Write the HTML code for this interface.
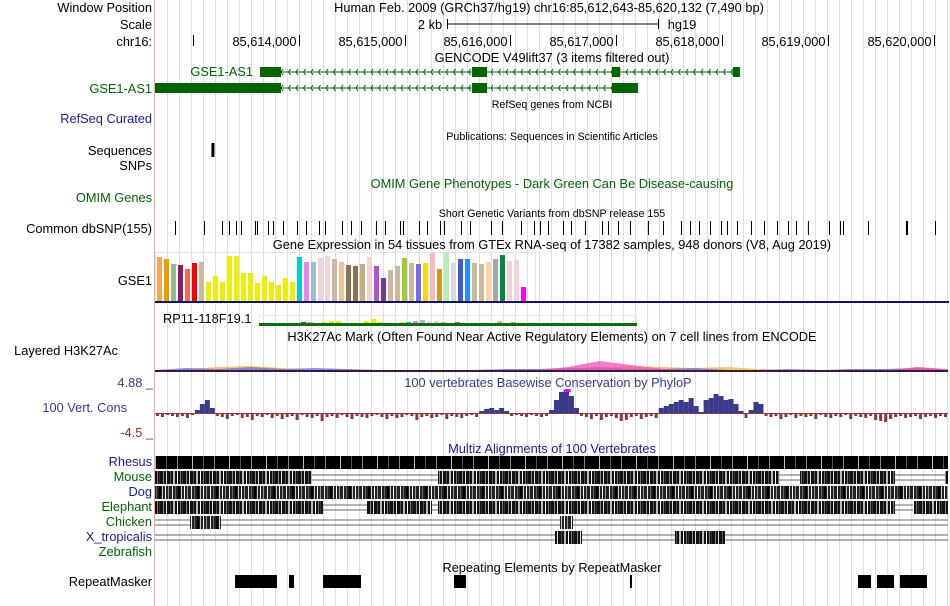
<!DOCTYPE html>
<html><head><meta charset="utf-8">
<style>
html,body{margin:0;padding:0;background:#fff;}
svg{display:block;font-family:"Liberation Sans",Arial,sans-serif;}
</style></head>
<body>
<svg id="c" width="950" height="606" viewBox="0 0 950 606" xmlns="http://www.w3.org/2000/svg">
<defs>
<pattern id="pat-a" width="23" height="20" patternUnits="userSpaceOnUse">
<rect width="23" height="20" fill="#111"/>
<rect x="2" width="1" height="20" fill="#888"/><rect x="5" width="1" height="20" fill="#ddd"/>
<rect x="9" width="1" height="20" fill="#555"/><rect x="12" width="2" height="20" fill="#bbb"/>
<rect x="16" width="1" height="20" fill="#fff"/><rect x="19" width="1" height="20" fill="#777"/>
<rect x="21" width="1" height="20" fill="#333"/>
</pattern>
<pattern id="pat-b" width="37" height="20" patternUnits="userSpaceOnUse">
<rect width="37" height="20" fill="#000"/>
<rect x="7" width="1" height="20" fill="#bbb"/><rect x="18" width="1" height="20" fill="#555"/>
<rect x="29" width="1" height="20" fill="#888"/>
</pattern>
<pattern id="pat-c" width="19" height="20" patternUnits="userSpaceOnUse">
<rect width="19" height="20" fill="#222"/>
<rect x="1" width="1" height="20" fill="#eee"/><rect x="4" width="1" height="20" fill="#666"/>
<rect x="7" width="2" height="20" fill="#000"/><rect x="10" width="1" height="20" fill="#ccc"/>
<rect x="13" width="1" height="20" fill="#fff"/><rect x="16" width="1" height="20" fill="#999"/>
</pattern>
</defs>
<g id="grid"></g>
<line x1="154.5" y1="0" x2="154.5" y2="606" stroke="#f4a8a8" stroke-width="1"/>
<g id="labels" font-size="12.8" text-anchor="end">
<text x="152" y="12" fill="#000">Window Position</text>
<text x="152" y="29" fill="#000">Scale</text>
<text x="152" y="46" fill="#000">chr16:</text>
<text x="152" y="93" fill="#006400">GSE1-AS1</text>
<text x="152" y="123" fill="#1a1a8c">RefSeq Curated</text>
<text x="152" y="155" fill="#000">Sequences</text>
<text x="152" y="170" fill="#000">SNPs</text>
<text x="152" y="202" fill="#006400">OMIM Genes</text>
<text x="152" y="233" fill="#000">Common dbSNP(155)</text>
<text x="152" y="285" fill="#000">GSE1</text>
<text x="118" y="355" fill="#000">Layered H3K27Ac</text>
<text x="153" y="387" fill="#3a3a8c">4.88 _</text>
<text x="127" y="412" fill="#3a3a8c">100 Vert. Cons</text>
<text x="153" y="437" fill="#8b2c2c">-4.5 _</text>
<text x="152" y="466" fill="#1a1a8c">Rhesus</text>
<text x="152" y="481" fill="#006400">Mouse</text>
<text x="152" y="496" fill="#1a1a8c">Dog</text>
<text x="152" y="511" fill="#006400">Elephant</text>
<text x="152" y="526" fill="#006400">Chicken</text>
<text x="152" y="541" fill="#1a1a8c">X_tropicalis</text>
<text x="152" y="556" fill="#006400">Zebrafish</text>
<text x="152" y="586" fill="#000">RepeatMasker</text>
</g>
<g id="titles" font-size="12.8" text-anchor="middle">
<text x="549" y="12">Human Feb. 2009 (GRCh37/hg19)   chr16:85,612,643-85,620,132 (7,490 bp)</text>
<text x="430" y="29">2 kb</text>
<text x="682" y="29">hg19</text>
<text x="552" y="62">GENCODE V49lift37 (3 items filtered out)</text>
<text x="552" y="108" font-size="10.7">RefSeq genes from NCBI</text>
<text x="552" y="140" font-size="10.7">Publications: Sequences in Scientific Articles</text>
<text x="552" y="188" fill="#006400">OMIM Gene Phenotypes - Dark Green Can Be Disease-causing</text>
<text x="552" y="217" font-size="10.7">Short Genetic Variants from dbSNP release 155</text>
<text x="552" y="249">Gene Expression in 54 tissues from GTEx RNA-seq of 17382 samples, 948 donors (V8, Aug 2019)</text>
<text x="552" y="341">H3K27Ac Mark (Often Found Near Active Regulatory Elements) on 7 cell lines from ENCODE</text>
<text x="548" y="387" fill="#3a3a8c">100 vertebrates Basewise Conservation by PhyloP</text>
<text x="552" y="453" fill="#1a1a8c">Multiz Alignments of 100 Vertebrates</text>
<text x="552" y="572">Repeating Elements by RepeatMasker</text>
</g>
<line x1="447" y1="24" x2="659" y2="24" stroke="#000"/>
<line x1="447.5" y1="19" x2="447.5" y2="29" stroke="#000"/>
<line x1="658.5" y1="19" x2="658.5" y2="29" stroke="#000"/>
<text x="253" y="76" font-size="12.8" text-anchor="end" fill="#006400">GSE1-AS1</text>
<text x="163" y="323" font-size="12.8" fill="#000">RP11-118F19.1</text>
<g id="axis"></g>
<g id="genes"></g>
<g id="snps"></g>
<g id="gtex"></g>
<g id="h3k"></g>
<g id="phylop"></g>
<g id="multiz"></g>
<g id="rmsk"></g>
</svg>
<script>
const NS='http://www.w3.org/2000/svg';
const winStart=85612643, winEnd=85620132;
const tickPositions=[85614000,85615000,85616000,85617000,85618000,85619000,85620000];
const tickLabels=['85,614,000','85,615,000','85,616,000','85,617,000','85,618,000','85,619,000','85,620,000'];
const exonsTx1=[[992,1190],[2994,3136],[4316,4392],[5459,5525]];
const exonsTx2=[[0,1190],[2994,3136],[4316,4562]];
const seqHits=[533];
const snpPos=[189,463,633,699,765,812,944,963,1067,1115,1209,1341,1426,1549,1606,1766,1851,1946,2087,2172,2314,2342,2493,2569,2692,2730,2890,2975,3174,3277,3457,3580,3636,3712,3854,3929,4061,4222,4279,4373,4486,4656,4798,4968,5053,5138,5242,5346,5402,5497,5629,5752,5875,5979,6054,6167,6366,6470,6498,6734,7093,7367];
const gtexValues=[44,42,37,36,32,38,39,19,25,19,45,45,28,28,18,25,19,16,23,19,44,39,39,43,45,42,39,36,35,37,44,35,23,31,35,43,38,37,38,48,32,49,38,42,42,38,37,39,42,46,40,41,14];
const gtexColors=['#FFA54F','#EE9A00','#8FBC8F','#8B1C62','#EE6A50','#FF0000','#CDB79E','#EEEE00','#EEEE00','#EEEE00','#EEEE00','#EEEE00','#EEEE00','#EEEE00','#EEEE00','#EEEE00','#EEEE00','#EEEE00','#EEEE00','#EEEE00','#00CED1','#EE82EE','#9AC0CD','#EED5D2','#EED5D2','#CDB79E','#EEC591','#8B7355','#8B7355','#CDAA7D','#EED5D2','#B452CD','#7A378B','#CDB79E','#CDB79E','#9ACD32','#CDB79E','#7B68EE','#FFD700','#FFB6C1','#CD9B1D','#B4EEB4','#D9D9D9','#3A5FCD','#1E90FF','#CDB79E','#CDB79E','#FFD39B','#A6A6A6','#008B45','#EED5D2','#EED5D2','#FF00FF'];
const rpValues=[0,0,0,0,0,1,1,0,1,2,2,0,0,0,2,4,1,0,0,1,1,2,3,2,2,1,0,1,0,0,0,0,0,2,0,1,0,0,0,0,0,0,0,0,0,0,0,0,0,0,0,0,0];
const h3kPos=[0,300,600,900,1200,1500,1800,2100,2400,2700,3000,3300,3600,3900,4200,4500,4800,5100,5400,5700,6000,6300,6600,6900,7200,7490];
const h3kBlue=[2,4,3,5,3,4,3,2,1,1,2,3,3,4,5,3,3,4,2,2,3,2,3,3,4,2];
const h3kOrange=[1,3,5,6,4,2,3,2,1,0,1,2,2,3,4,6,5,4,5,3,2,2,3,2,5,2];
const h3kPink=[0,0,1,1,0,0,0,0,0,0,1,1,2,5,11,7,3,2,1,1,0,0,1,1,5,3];
const phylopValues=[-2,-3,-1,-2,-3,-2,-4,-1,4,10,14,6,-2,-3,-5,-2,-1,-4,-3,-6,-2,-3,-1,-4,-2,-5,-3,-2,-6,-1,-3,-4,-2,-7,-3,-2,-4,-1,-3,-5,-2,-3,-4,-2,-1,-3,-5,-2,-4,-3,-1,-2,-6,-3,-2,-4,-3,-1,-5,-2,-3,-4,-2,-1,-3,3,5,6,4,6,3,-2,-1,-2,-3,-1,-2,-3,-2,4,14,22,24,18,6,-2,-3,-5,-2,-6,-3,-2,-4,-7,-6,-3,-2,-5,-3,-2,-4,6,8,10,12,14,12,16,8,2,14,16,20,18,14,15,10,3,-4,4,12,10,-2,-3,-2,-5,-3,-1,-4,-2,-3,-2,-5,-1,-3,-4,-2,-3,-1,-5,-2,-3,-4,-2,-6,-7,-8,-5,-3,-2,-4,-3,-2,-5,-3,-2,-4,-2,-3];
const rhesusBlocks=[[0,7490]];
const mouseBlocks=[[0,1483],[2673,5894],[6092,6989],[7462,7490]];
const dogBlocks=[[0,7490]];
const elephantBlocks=[[0,1587],[2002,2616],[2673,6989],[7159,7490]];
const chickenBlocks=[[331,623],[3825,3948]];
const xtropBlocks=[[3778,4033],[4911,5384]];
const zebrafishBlocks=[];
const rmskBlocks=[[756,1152],[1266,1313],[1587,1946],[2824,2937],[4486,4505],[6640,6763],[6819,6980],[7036,7291]];

const X0=155, X1=948;
const sx=bp=>X0+(bp)*(X1-X0)/(winEnd-winStart+1);
const sxAbs=bp=>sx(bp-winStart);
function mk(tag,attrs,parent){const e=document.createElementNS(NS,tag);for(const k in attrs)e.setAttribute(k,attrs[k]);parent.appendChild(e);return e;}

const grid=document.getElementById('grid');
for(let x=167;x<950;x+=12){const l=mk('line',{x1:x+.5,y1:0,x2:x+.5,y2:606,stroke:'#dcdcf4'},grid);

}

const ax=document.getElementById('axis');
tickPositions.forEach((p,i)=>{const x=Math.round(sxAbs(p))+.5;
const l=mk('line',{x1:x,y1:35,x2:x,y2:46,stroke:'#000'},ax);


const t=mk('text',{x:x-3,y:46,'font-size':12.8,'text-anchor':'end'},ax);t.textContent=tickLabels[i];

});
{const l=mk('line',{x1:193.5,y1:35,x2:193.5,y2:46,stroke:'#000'},ax);

}

const gn=document.getElementById('genes');
function drawTx(exons,yc,name){const g=mk('g',{},gn);


const a=sx(exons[0][0]),b=sx(exons[exons.length-1][1]);
mk('line',{x1:a,y1:yc,x2:b,y2:yc,stroke:'#006400'},g);
for(let x=a+6;x<b-4;x+=7.5){mk('polyline',{points:`${x+2},${yc-3} ${x},${yc} ${x+2},${yc+3}`,fill:'none',stroke:'#006400'},g);}
exons.forEach(e=>{const r=mk('rect',{x:sx(e[0]),y:yc-5,width:Math.max(2,sx(e[1])-sx(e[0])),height:10,fill:'#006400'},g);

});}
drawTx(exonsTx1,72,'gse1-as1-transcript-1');
drawTx(exonsTx2,88,'gse1-as1-transcript-2');

const sn=document.getElementById('snps');
seqHits.forEach(p=>{const r=mk('rect',{x:sx(p),y:143,width:3,height:14,fill:'#000'},sn);

});
snpPos.forEach(p=>{const r=mk('rect',{x:sx(p),y:221,width:(p===7093?2:1),height:14,fill:'#000'},sn);

});

const gt=document.getElementById('gtex');
{const r=mk('rect',{x:155.5,y:252.5,width:380,height:49,fill:'none',stroke:'#e4e4e4'},gt);

}
const base=301;
gtexValues.forEach((v,i)=>{const r=mk('rect',{x:157+i*7,y:base-v,width:5,height:v,fill:gtexColors[i]},gt);

});
{const r=mk('rect',{x:155,y:301,width:794,height:2,fill:'#14145e'},gt);

}
{const r=mk('rect',{x:259.5,y:315.5,width:377,height:8,fill:'none',stroke:'#ececec'},gt);

}
rpValues.forEach((v,i)=>{if(!v)return;const r=mk('rect',{x:266+i*7,y:323-v,width:5,height:v,fill:gtexColors[i]},gt);

});
{const r=mk('rect',{x:259,y:323,width:378,height:3,fill:'#0a6e0a'},gt);

}

const hk=document.getElementById('h3k');
function area(vals,color,name,op){let d=`M${sx(h3kPos[0])},372`;
h3kPos.forEach((p,i)=>{d+=` L${sx(p)},${372-vals[i]}`;});d+=` L${sx(h3kPos[h3kPos.length-1])},372 Z`;
const p=mk('path',{d:d,fill:color,'fill-opacity':op},hk);

}
area(h3kOrange,'#f5b74a','h3k27ac-orange',0.8);
area(h3kBlue,'#6a6ae8','h3k27ac-blue',0.75);
area(h3kPink,'#f050b0','h3k27ac-pink',0.75);
{const r=mk('rect',{x:155,y:370,width:793,height:2,fill:'#3a1a3a'},hk);

}

const ph=document.getElementById('phylop');
const pb=414, bw=793/phylopValues.length;
phylopValues.forEach((v,i)=>{const x=X0+i*bw;
const r=v>0?mk('rect',{x:x,y:pb-v,width:bw,height:v,fill:'#3a3a8c'},ph):mk('rect',{x:x+bw*0.2,y:pb,width:bw*0.6,height:-v,fill:'#8b3a3a'},ph);

});
{const r=mk('rect',{x:X0,y:pb-1,width:793,height:1,fill:'#8b3a3a'},ph);

}
{const r=mk('rect',{x:sx(3870),y:389,width:6,height:3,fill:'#ff00ff'},ph);

}

const mz=document.getElementById('multiz');
function species(blocks,y,h,pat,name,lines){const g=mk('g',{},mz);


if(lines){mk('line',{x1:X0,y1:y+h/2-2.5,x2:X1,y2:y+h/2-2.5,stroke:'#666'},g);
mk('line',{x1:X0,y1:y+h/2+2.5,x2:X1,y2:y+h/2+2.5,stroke:'#666'},g);}
blocks.forEach(b=>{const r=mk('rect',{x:sx(b[0]),y:y,width:sx(b[1])-sx(b[0]),height:h,fill:'url(#'+pat+')'},g);

});}
species(rhesusBlocks,456,13,'pat-b','rhesus-track',true);
species(mouseBlocks,471,13,'pat-a','mouse-track',true);
species(dogBlocks,486,13,'pat-c','dog-track',true);
species(elephantBlocks,501,13,'pat-a','elephant-track',true);
species(chickenBlocks,516,13,'pat-c','chicken-track',true);
species(xtropBlocks,531,13,'pat-a','xtropicalis-track',true);
species(zebrafishBlocks,546,13,'pat-a','zebrafish-track',false);

const rm=document.getElementById('rmsk');
rmskBlocks.forEach(b=>{const r=mk('rect',{x:sx(b[0]),y:575,width:Math.max(2,sx(b[1])-sx(b[0])),height:13,fill:'#000'},rm);

});
</script>
</body></html>
